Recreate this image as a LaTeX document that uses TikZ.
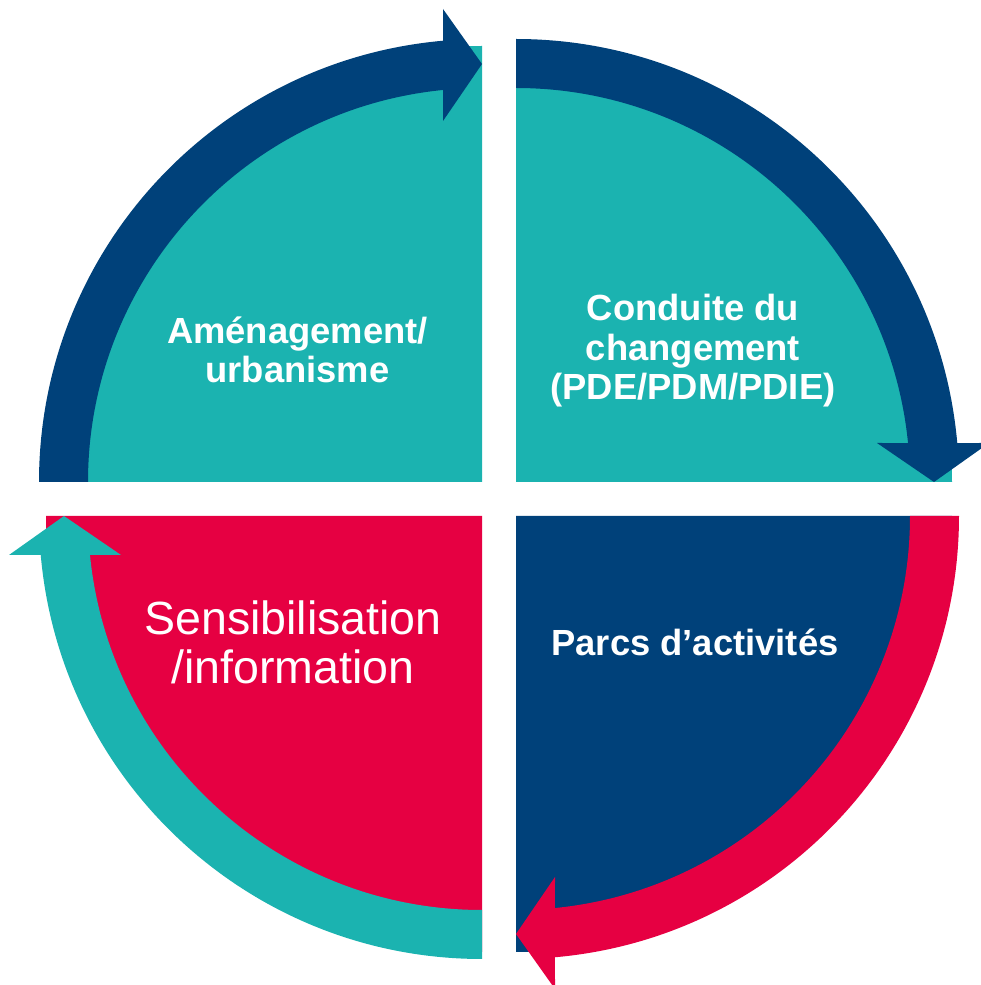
\documentclass[tikz,border=0pt]{standalone}
\usepackage{fontspec}
\setmainfont{Liberation Sans}
\usetikzlibrary{positioning}
\definecolor{navyblue}{RGB}{0,65,122}
\definecolor{lagoon}{RGB}{27,179,176}
\definecolor{crimson}{RGB}{230,0,66}
\tikzset{
  boldlabel/.style={text=white, align=center, inner sep=0pt,
    font=\fontsize{20.7}{22.5}\selectfont\bfseries},
  plainlabel/.style={text=white, align=center, inner sep=0pt,
    font=\fontsize{26.5}{27.9}\selectfont},
}

\begin{document}
\begin{tikzpicture}[x=0.02cm, y=0.02cm]
\useasboundingbox (0,0) rectangle (981,985);
% quarter discs
\foreach \cx/\cy/\a/\col in {482/503/90/lagoon, 516/503/0/lagoon, 516/469/-90/navyblue, 482/469/180/crimson}
\fill[\col] (\cx,\cy) -- +(\a:436) arc[start angle=\a, end angle=\a+90, radius=436] -- cycle;
% curved arrows
\foreach \cx/\cy/\r/\col in {482/503/0/navyblue, 516/503/-90/navyblue, 516/469/-180/crimson, 482/469/-270/lagoon}
\fill[\col, shift={(\cx,\cy)}, rotate=\r] (180:443) arc[start angle=180, end angle=95.05, radius=443]
  -- (-39,473) -- (0,418) -- (-39,361) -- (95.68:394) arc[start angle=95.68, end angle=180, radius=394] -- cycle;
% labels (base = last line)
\node[boldlabel, anchor=base] (amenagement) at (297.5,602) {Aménagement/\\urbanisme};
\node[boldlabel, anchor=base] (conduite) at (693,585) {Conduite du\\changement\\(PDE/PDM/PDIE)};
\node[boldlabel, anchor=base] (parcs) at (695,329) {Parcs d’activités};
\node[plainlabel, anchor=base] (sensib) at (293,301) {Sensibilisation\\/information};
\end{tikzpicture}
\end{document}
